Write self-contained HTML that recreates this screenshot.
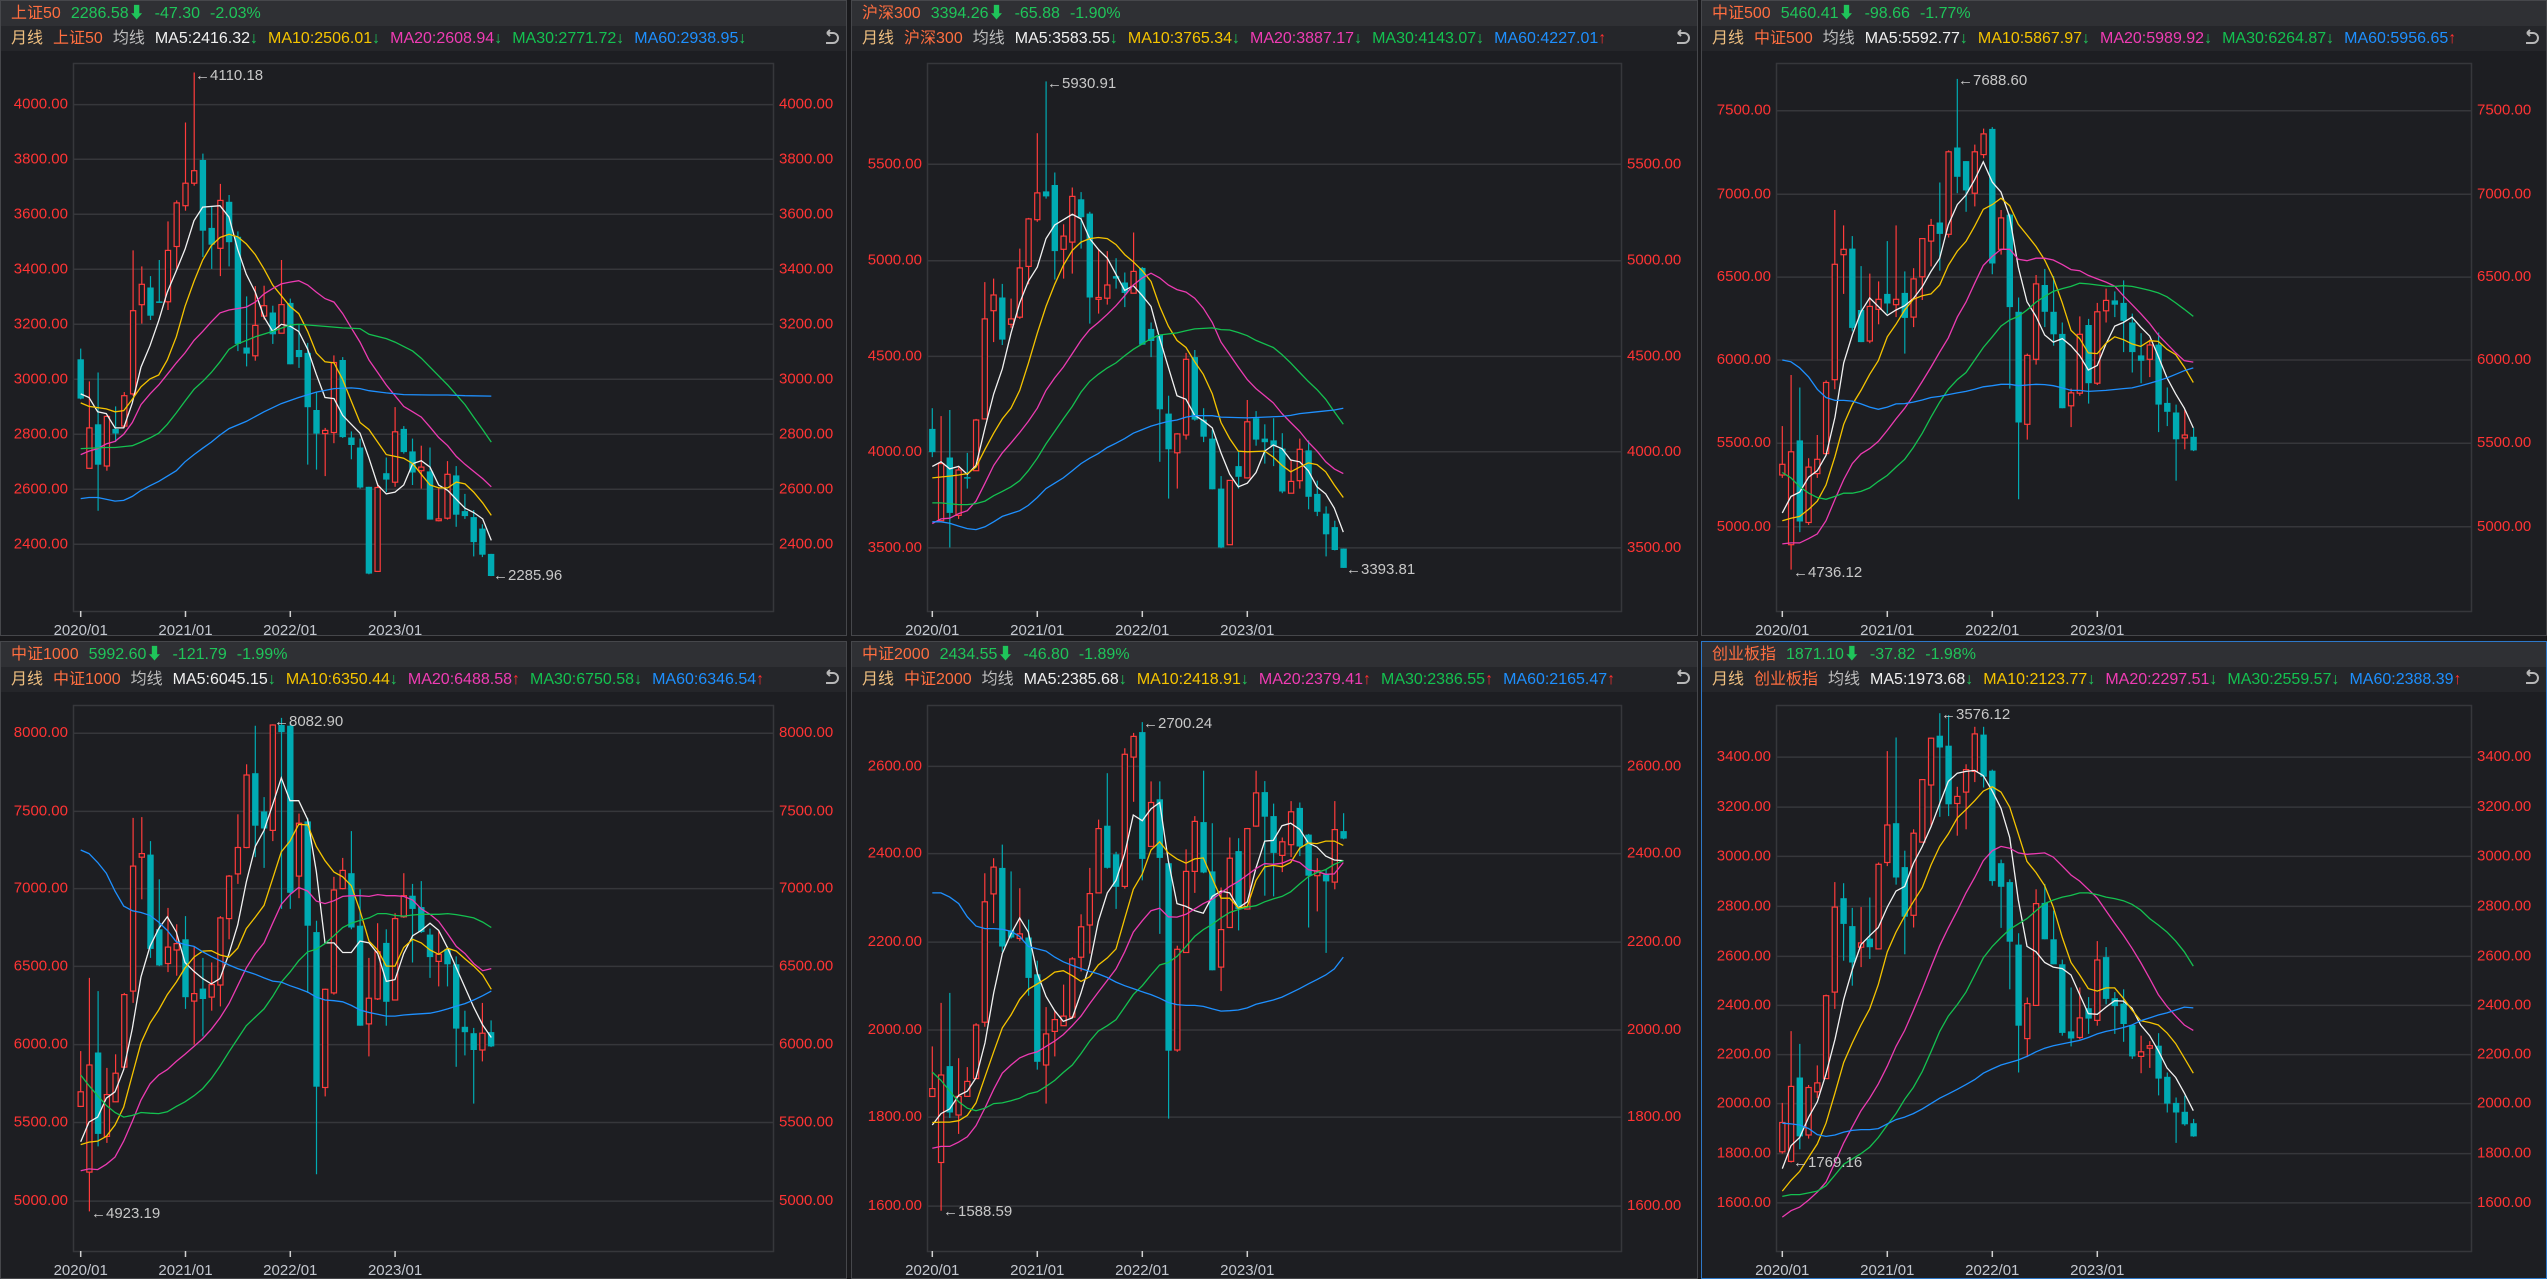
<!DOCTYPE html>
<html><head><meta charset="utf-8"><style>
html,body{margin:0;padding:0;background:#19191c;width:2547px;height:1279px;overflow:hidden;font-family:"Liberation Sans","Noto Sans CJK SC",sans-serif;}
.p{position:absolute;background:#1d1e22;border:1px solid #46474b;box-sizing:border-box;}
.r1{position:absolute;left:0;right:0;top:0;height:25px;background:#2f3034;font-size:16px;line-height:25px;white-space:nowrap;padding-left:10px;}
.r2{position:absolute;left:0;right:0;top:25px;height:25px;background:#25262a;font-size:16px;line-height:25px;white-space:nowrap;padding-left:10px;}
.r1 span,.r2 span{margin-right:10px;}
.nm{color:#ff6e40}.g{color:#1fc55a}.yx{color:#f0c080}.jx{color:#bdbdbd}
.w{color:#f0f0f0}.y{color:#f5c400}.m{color:#f03cb4}.gr{color:#14c150}.b{color:#1e90ff}
.dn{color:#1fc55a;font-weight:bold}.up{color:#ff3030;font-weight:bold}
svg#c{position:absolute;left:0;top:0;}
</style></head><body>
<div class="p" style="left:0;top:0;width:847px;height:636px;"><div class="r1"><span class="nm">上证50</span><span class="g">2286.58<b>⬇</b></span><span class="g">-47.30</span><span class="g">-2.03%</span></div><div class="r2"><span class="yx">月线</span><span class="nm">上证50</span><span class="jx">均线</span><span class="w">MA5:2416.32<i class="dn">↓</i></span><span class="y">MA10:2506.01<i class="dn">↓</i></span><span class="m">MA20:2608.94<i class="dn">↓</i></span><span class="gr">MA30:2771.72<i class="dn">↓</i></span><span class="b">MA60:2938.95<i class="dn">↓</i></span></div></div>
<div class="p" style="left:851px;top:0;width:847px;height:636px;"><div class="r1"><span class="nm">沪深300</span><span class="g">3394.26<b>⬇</b></span><span class="g">-65.88</span><span class="g">-1.90%</span></div><div class="r2"><span class="yx">月线</span><span class="nm">沪深300</span><span class="jx">均线</span><span class="w">MA5:3583.55<i class="dn">↓</i></span><span class="y">MA10:3765.34<i class="dn">↓</i></span><span class="m">MA20:3887.17<i class="dn">↓</i></span><span class="gr">MA30:4143.07<i class="dn">↓</i></span><span class="b">MA60:4227.01<i class="up">↑</i></span></div></div>
<div class="p" style="left:1701px;top:0;width:846px;height:636px;"><div class="r1"><span class="nm">中证500</span><span class="g">5460.41<b>⬇</b></span><span class="g">-98.66</span><span class="g">-1.77%</span></div><div class="r2"><span class="yx">月线</span><span class="nm">中证500</span><span class="jx">均线</span><span class="w">MA5:5592.77<i class="dn">↓</i></span><span class="y">MA10:5867.97<i class="dn">↓</i></span><span class="m">MA20:5989.92<i class="dn">↓</i></span><span class="gr">MA30:6264.87<i class="dn">↓</i></span><span class="b">MA60:5956.65<i class="up">↑</i></span></div></div>
<div class="p" style="left:0;top:641px;width:847px;height:638px;"><div class="r1"><span class="nm">中证1000</span><span class="g">5992.60<b>⬇</b></span><span class="g">-121.79</span><span class="g">-1.99%</span></div><div class="r2"><span class="yx">月线</span><span class="nm">中证1000</span><span class="jx">均线</span><span class="w">MA5:6045.15<i class="dn">↓</i></span><span class="y">MA10:6350.44<i class="dn">↓</i></span><span class="m">MA20:6488.58<i class="up">↑</i></span><span class="gr">MA30:6750.58<i class="dn">↓</i></span><span class="b">MA60:6346.54<i class="up">↑</i></span></div></div>
<div class="p" style="left:851px;top:641px;width:847px;height:638px;"><div class="r1"><span class="nm">中证2000</span><span class="g">2434.55<b>⬇</b></span><span class="g">-46.80</span><span class="g">-1.89%</span></div><div class="r2"><span class="yx">月线</span><span class="nm">中证2000</span><span class="jx">均线</span><span class="w">MA5:2385.68<i class="dn">↓</i></span><span class="y">MA10:2418.91<i class="dn">↓</i></span><span class="m">MA20:2379.41<i class="up">↑</i></span><span class="gr">MA30:2386.55<i class="up">↑</i></span><span class="b">MA60:2165.47<i class="up">↑</i></span></div></div>
<div class="p" style="left:1701px;top:641px;width:846px;height:638px;border-color:#2e78c8;"><div class="r1"><span class="nm">创业板指</span><span class="g">1871.10<b>⬇</b></span><span class="g">-37.82</span><span class="g">-1.98%</span></div><div class="r2"><span class="yx">月线</span><span class="nm">创业板指</span><span class="jx">均线</span><span class="w">MA5:1973.68<i class="dn">↓</i></span><span class="y">MA10:2123.77<i class="dn">↓</i></span><span class="m">MA20:2297.51<i class="dn">↓</i></span><span class="gr">MA30:2559.57<i class="dn">↓</i></span><span class="b">MA60:2388.39<i class="up">↑</i></span></div></div>
<svg id="c" width="2547" height="1279" xmlns="http://www.w3.org/2000/svg"></svg>
<script>
var P=[
{ox:60,oy:60,t0:62,st:26.2,box:[73,63,773,611],
grid:[[125,'4000.00'],[278,'3800.00'],[432,'3600.00'],[586,'3400.00'],[740,'3200.00'],[894,'3000.00'],[1048,'2800.00'],[1202,'2600.00'],[1356,'2400.00']],
c:[[838,948,808,950,0],[1030,1143,900,1143,1],[1020,1133,875,1262,0],[998,1137,995,1150,1],[1033,1046,970,1070,0],[940,1025,930,1030,1],[702,935,533,940,1],[628,685,578,738,1],[637,716,605,728,0],[676,679,560,680,0],[533,677,452,700,1],[400,522,393,585,1],[345,408,175,422,1],[310,345,35,352,1],[280,478,262,552,0],[470,517,410,585,0],[393,527,347,605,1],[397,510,378,578,0],[495,795,480,815,0],[805,822,662,858,0],[743,828,633,842,1],[688,717,632,727,1],[707,768,688,795,0],[685,765,560,765,1],[680,852,668,852,0],[812,832,740,862,0],[820,972,792,1133,0],[980,1046,930,1147,0],[1037,1046,1030,1165,1],[847,1043,827,1073,1],[840,1056,832,1058,0],[1057,1078,1040,1118,0],[1085,1197,1060,1200,0],[1195,1438,1195,1440,0],[1197,1432,1185,1432,1],[1157,1175,1113,1210,0],[1041,1182,972,1195,1],[1033,1098,1025,1102,0],[1096,1155,1060,1190,0],[1140,1150,1080,1200,1],[1152,1287,1085,1287,0],[1285,1290,1200,1292,1],[1160,1283,1123,1287,1],[1163,1273,1137,1307,0],[1263,1277,1215,1285,0],[1280,1350,1260,1390,0],[1312,1385,1300,1392,0],[1383,1445,1383,1445,0]],
ma:[
[62,935,87,945,113,985,139,990,165,1030,191,1030,217,960,243,860,270,800,296,730,322,650,349,590,375,530,402,450,428,412,480,408,507,440,533,530,559,600,586,650,612,720,638,760,664,740,690,745,716,760,743,810,769,880,795,945,822,948,848,995,874,1020,900,1045,927,1115,953,1190,979,1215,1005,1210,1031,1190,1058,1130,1084,1122,1110,1140,1136,1190,1163,1205,1189,1230,1215,1255,1241,1267,1268,1285,1294,1345],
[62,960,87,970,139,977,165,985,191,982,217,950,243,915,270,893,296,882,322,840,349,775,375,690,402,620,428,560,454,520,480,497,507,488,533,495,559,515,586,545,612,585,638,630,664,660,690,690,716,710,743,760,769,820,795,845,822,848,848,895,874,955,900,1015,927,1035,953,1070,979,1105,1005,1110,1031,1115,1058,1130,1084,1160,1110,1190,1136,1198,1163,1198,1189,1182,1215,1187,1241,1210,1268,1240,1294,1275],
[62,1105,87,1095,113,1088,139,1075,165,1068,191,1048,217,1015,243,965,270,935,296,910,322,880,349,848,375,820,402,785,428,760,454,733,480,708,507,700,559,692,586,678,612,655,638,640,664,627,690,622,716,618,743,630,769,650,795,668,822,678,848,710,874,750,900,790,927,840,953,875,979,910,1005,940,1031,970,1058,985,1084,1000,1110,1028,1136,1057,1163,1080,1189,1110,1215,1132,1241,1152,1268,1172,1294,1195],
[62,1088,139,1085,165,1085,217,1080,243,1070,270,1058,296,1045,322,1020,349,988,375,955,402,922,428,900,454,875,480,845,507,810,533,795,586,775,638,760,690,742,716,740,743,742,795,746,848,750,900,752,927,768,979,780,1005,790,1058,815,1084,835,1110,860,1163,910,1215,965,1241,1000,1268,1035,1294,1070],
[62,1228,87,1225,113,1225,165,1235,191,1233,217,1222,243,1205,270,1192,296,1180,349,1150,375,1125,402,1105,428,1087,454,1070,480,1050,507,1032,559,1012,612,985,664,962,716,945,769,930,822,920,874,918,900,920,927,926,979,932,1031,937,1110,938,1163,938,1215,940,1294,941]],
lab:[['←4110.18',195,76],['←2285.96',493,576]]},
{ox:910,oy:60,t0:67,st:26.25,box:[927,63,1621,611],
grid:[[292,'5500.00'],[562,'5000.00'],[830,'4500.00'],[1097,'4000.00'],[1366,'3500.00']],
c:[[1033,1098,975,1112,0],[1130,1290,997,1290,1],[1113,1268,980,1365,0],[1148,1275,1140,1285,1],[1168,1172,1100,1200,0],[1008,1150,1005,1150,1],[725,1005,622,1005,1],[658,702,612,790,1],[665,783,627,798,0],[725,740,668,750,1],[582,720,528,725,1],[445,578,442,628,1],[372,447,205,453,1],[368,382,60,388,0],[350,535,315,615,0],[493,530,460,612,1],[382,510,357,598,1],[390,440,370,528,0],[430,665,425,738,0],[665,670,530,710,1],[630,667,535,685,1],[605,612,555,640,0],[623,652,595,692,0],[592,653,483,653,1],[582,797,580,797,0],[753,787,735,832,0],[770,978,770,1125,0],[990,1090,940,1228,0],[1047,1100,1045,1200,1],[838,1050,820,1063,1],[832,1007,812,1010,0],[1007,1055,975,1070,0],[1060,1202,1035,1202,0],[1200,1365,1165,1367,0],[1177,1357,1177,1357,1],[1137,1167,1095,1200,0],[1013,1170,952,1172,1],[1003,1063,983,1080,0],[1060,1070,1020,1130,0],[1065,1080,1003,1137,0],[1088,1208,1045,1213,0],[1180,1213,1118,1213,1],[1090,1178,1060,1200,1],[1093,1223,1065,1258,0],[1215,1265,1178,1277,0],[1270,1328,1250,1390,0],[1308,1372,1290,1373,0],[1368,1422,1368,1422,0]],
ma:[
[67,1138,93,1125,119,1145,146,1138,172,1160,198,1135,225,1030,251,935,277,865,303,765,329,680,355,620,382,580,408,500,434,462,487,432,513,445,539,500,565,530,592,555,618,600,644,645,670,632,697,660,723,690,749,780,775,860,801,940,828,950,854,995,880,1010,907,1030,933,1100,959,1160,985,1195,1012,1185,1038,1155,1064,1095,1090,1078,1116,1088,1142,1120,1169,1125,1195,1150,1221,1195,1247,1215,1273,1255,1300,1322],
[67,1170,119,1165,146,1162,172,1158,198,1140,225,1090,251,1045,277,1005,303,975,329,925,355,850,382,765,408,690,434,628,460,575,487,533,513,510,539,500,565,497,592,500,618,517,644,545,670,565,697,590,723,620,749,690,775,745,801,785,828,805,854,845,880,880,907,935,933,1015,959,1060,985,1095,1012,1097,1064,1095,1090,1112,1116,1135,1142,1153,1169,1140,1195,1128,1221,1133,1247,1153,1273,1190,1300,1225],
[67,1298,93,1285,119,1283,146,1270,172,1262,198,1235,225,1185,251,1135,277,1100,303,1072,329,1043,355,1012,382,975,408,925,434,890,460,860,487,822,513,785,539,755,565,735,592,712,618,688,644,660,670,630,697,610,723,597,749,610,775,630,801,643,828,650,854,667,880,695,907,735,933,790,959,825,985,860,1012,895,1038,920,1064,940,1090,960,1116,990,1142,1015,1169,1040,1195,1070,1221,1095,1247,1125,1273,1145,1300,1158],
[67,1240,93,1240,146,1245,172,1245,198,1242,225,1235,251,1220,277,1208,303,1195,329,1178,355,1150,382,1115,408,1075,434,1040,460,1005,487,970,513,930,539,900,565,880,592,862,618,848,644,828,670,810,697,795,723,780,749,770,801,764,828,758,854,753,907,750,933,755,959,756,985,763,1012,772,1038,785,1090,805,1116,825,1142,848,1169,875,1195,900,1221,923,1247,950,1273,985,1300,1020],
[67,1293,93,1293,119,1297,146,1305,172,1312,198,1315,225,1307,251,1293,277,1278,329,1262,355,1247,382,1225,408,1200,434,1185,460,1170,487,1150,513,1130,539,1115,565,1102,592,1085,618,1073,644,1060,670,1045,697,1035,723,1025,749,1018,775,1012,801,1008,828,1000,854,996,907,996,933,1000,1012,1002,1064,1000,1116,998,1142,995,1169,990,1221,985,1273,980,1300,975]],
lab:[['←5930.91',1047,84],['←3393.81',1346,570]]},
{ox:1760,oy:60,t0:67,st:26.25,box:[1776,63,2471,611],
grid:[[142,'7500.00'],[376,'7000.00'],[608,'6500.00'],[840,'6000.00'],[1073,'5500.00'],[1307,'5000.00']],
c:[[1132,1162,1025,1170,1],[1097,1357,882,1427,1],[1065,1292,917,1322,0],[1140,1295,1115,1302,1],[1118,1158,1050,1170,1],[903,1102,897,1102,1],[572,895,420,922,1],[530,545,463,655,1],[528,750,493,760,0],[700,790,577,790,0],[690,787,598,793,1],[670,698,620,740,1],[655,682,507,710,0],[670,685,463,720,1],[652,722,592,822,0],[613,720,583,748,1],[500,607,500,672,1],[463,507,445,578,1],[455,487,343,590,0],[257,488,253,497,1],[245,327,53,373,0],[283,365,283,425,0],[257,373,237,410,1],[207,265,192,275,1],[193,570,188,600,0],[442,530,420,545,1],[433,692,430,920,0],[705,1015,665,1230,0],[827,1020,822,1063,1],[627,838,602,853,1],[630,705,585,748,0],[705,768,605,800,0],[767,975,735,975,0],[932,968,920,1028,1],[768,933,718,940,1],[742,905,725,962,0],[705,905,680,910,1],[673,702,640,735,1],[673,685,648,720,0],[680,730,617,818,0],[735,818,710,875,0],[827,842,765,905,0],[798,838,783,888,1],[797,965,763,1042,0],[960,985,917,1025,0],[987,1062,965,1178,0],[1050,1058,980,1090,1],[1055,1093,1030,1095,0]],
ma:[
[67,1268,93,1222,119,1210,146,1168,172,1150,198,1107,225,1000,251,848,277,770,303,705,329,666,355,690,382,715,408,700,434,688,460,668,487,635,513,592,539,555,565,462,592,405,618,378,644,335,670,285,697,342,723,370,749,440,775,580,801,677,828,718,854,770,880,790,907,780,933,800,959,828,985,868,1012,855,1038,795,1064,745,1090,735,1116,720,1142,748,1169,773,1195,830,1221,890,1247,935,1273,975,1300,1030],
[67,1290,93,1283,119,1278,146,1258,172,1235,198,1190,225,1110,251,1020,277,965,303,925,329,880,355,842,382,775,408,740,434,700,460,670,487,660,513,655,539,630,565,575,592,535,618,508,644,465,670,418,697,405,723,387,749,408,775,460,801,490,828,522,854,560,880,610,907,680,933,757,959,780,985,820,1012,822,1038,793,1064,775,1090,783,1116,795,1142,802,1169,786,1195,788,1221,810,1247,825,1273,860,1300,903],
[67,1355,93,1352,119,1352,146,1340,172,1327,198,1290,225,1230,251,1175,277,1130,303,1103,329,1088,355,1068,382,1037,408,1005,434,975,460,940,487,900,513,860,539,818,565,778,592,720,618,678,644,625,670,575,697,550,723,530,749,530,775,558,801,562,828,555,854,555,880,560,907,573,933,587,959,590,985,603,1012,613,1038,622,1064,633,1090,660,1116,685,1142,710,1169,738,1195,770,1221,795,1247,820,1273,842,1300,846],
[67,1155,93,1170,119,1195,146,1213,172,1225,198,1230,225,1222,251,1213,277,1213,303,1208,329,1198,355,1180,382,1163,408,1140,434,1118,460,1085,487,1045,513,1000,539,958,565,922,592,895,618,875,644,840,670,805,697,775,723,745,749,728,775,718,801,700,828,678,854,662,880,648,907,640,933,634,959,625,985,627,1012,630,1038,633,1064,634,1090,632,1116,634,1142,639,1169,645,1195,652,1221,663,1247,680,1273,698,1300,718],
[67,840,93,845,119,862,146,888,172,922,198,945,225,953,251,953,277,955,303,963,329,972,355,978,382,972,408,963,434,962,460,958,487,952,513,945,539,942,565,937,592,932,618,928,644,922,670,915,697,912,723,908,749,908,775,912,801,910,828,908,854,909,880,912,907,918,933,925,959,925,985,928,1038,925,1090,920,1116,918,1142,912,1169,905,1195,898,1221,890,1247,880,1273,870,1300,862]],
lab:[['←7688.60',1958,81],['←4736.12',1793,573]]},
{ox:60,oy:700,t0:62,st:26.2,box:[73,705,773,1251],
grid:[[93,'8000.00'],[312,'7500.00'],[528,'7000.00'],[746,'6500.00'],[965,'6000.00'],[1183,'5500.00'],[1403,'5000.00']],
c:[[1097,1138,983,1140,1],[1022,1322,778,1432,1],[987,1215,815,1250,0],[1105,1222,1030,1240,1],[1045,1125,992,1125,1],[825,1028,820,1030,1],[465,815,330,848,1],[430,440,328,558,1],[433,697,395,722,0],[642,743,502,745,0],[692,738,582,762,1],[682,700,628,772,1],[670,832,605,865,0],[822,843,690,965,1],[808,837,722,942,0],[797,832,735,870,1],[610,798,605,858,1],[493,612,490,670,1],[413,487,320,515,1],[210,413,180,415,1],[205,352,72,440,0],[312,360,272,470,0],[70,365,68,395,1],[70,90,50,585,0],[72,540,60,585,0],[345,493,318,555,1],[340,632,330,820,0],[650,1083,618,1328,0],[810,1085,808,1110,1],[532,820,495,825,1],[477,528,442,530,1],[485,637,367,642,0],[632,912,530,912,0],[835,907,722,998,1],[705,837,625,840,1],[680,845,642,912,0],[612,840,597,840,1],[548,607,485,610,1],[548,585,515,735,0],[580,650,507,652,0],[657,720,640,778,0],[712,732,648,802,1],[697,740,690,802,0],[740,920,718,1027,0],[915,930,870,995,0],[933,980,918,1130,0],[933,980,848,1012,1],[930,970,897,972,0]],
ma:[
[62,1237,87,1182,113,1168,139,1115,165,1097,191,1035,217,920,243,775,270,690,296,640,322,607,349,650,375,735,402,760,428,780,454,795,480,780,507,710,533,630,559,510,586,410,612,365,638,293,664,218,690,282,716,282,743,335,769,480,795,680,822,680,848,707,874,707,900,675,927,680,953,710,979,788,1005,783,1031,710,1058,660,1084,645,1110,625,1136,645,1163,695,1189,750,1215,805,1241,860,1268,910,1294,945],
[62,1245,87,1238,113,1235,139,1222,165,1190,191,1140,217,1050,243,960,270,905,296,868,322,825,349,790,375,750,402,720,428,703,454,702,480,714,507,720,533,695,559,640,586,608,612,575,638,500,664,425,690,395,716,348,743,350,769,410,795,450,822,482,848,495,874,520,900,590,927,675,953,700,979,745,1005,745,1031,693,1058,670,1084,680,1110,700,1136,712,1163,695,1189,703,1215,725,1241,745,1268,770,1294,810],
[62,1318,87,1313,113,1315,139,1300,165,1280,191,1235,217,1180,243,1120,270,1075,296,1050,322,1035,349,1012,375,992,402,970,428,948,454,922,480,890,507,850,533,800,559,750,586,710,612,680,638,625,664,572,690,545,716,525,743,535,769,563,795,570,822,562,848,550,874,548,900,548,927,550,953,545,979,548,1005,548,1031,550,1058,560,1084,585,1110,600,1136,620,1163,655,1189,690,1215,710,1241,738,1268,758,1294,752],
[62,1050,87,1080,113,1108,139,1135,165,1155,191,1168,217,1163,243,1155,270,1157,296,1158,322,1153,349,1138,375,1125,402,1108,428,1088,454,1060,480,1025,507,985,533,948,559,912,586,888,612,865,638,830,664,790,690,762,716,730,743,705,769,698,795,682,822,660,848,637,874,625,900,617,927,610,953,598,979,598,1005,603,1031,605,1058,602,1084,600,1136,600,1163,598,1189,601,1215,605,1241,610,1268,622,1294,637],
[62,420,87,430,113,455,139,485,165,535,191,577,217,590,243,595,270,603,296,622,322,645,349,677,375,685,402,690,428,705,454,718,480,730,507,742,533,752,559,760,586,768,612,778,638,787,664,790,690,800,716,808,743,818,769,832,795,840,822,842,848,845,874,855,900,868,927,875,953,880,979,885,1005,885,1031,882,1058,880,1110,877,1136,872,1163,865,1189,857,1215,850,1241,840,1268,828,1294,815]],
lab:[['←8082.90',274,722],['←4923.19',91,1214]]},
{ox:910,oy:700,t0:67,st:26.25,box:[927,705,1621,1251],
grid:[[186,'2600.00'],[430,'2400.00'],[678,'2200.00'],[924,'2000.00'],[1168,'1800.00'],[1417,'1600.00']],
c:[[1088,1110,970,1112,1],[1050,1295,848,1430,1],[1025,1155,820,1170,0],[1110,1162,1003,1215,1],[1068,1110,1028,1110,1],[910,1060,905,1060,1],[565,902,485,915,1],[468,543,443,625,1],[470,690,405,705,0],[645,665,480,668,0],[655,668,527,675,1],[665,778,615,828,0],[768,1013,730,1035,0],[935,1022,860,1130,1],[895,928,870,998,1],[885,912,797,912,1],[725,888,720,890,1],[635,720,600,760,1],[542,630,470,710,1],[360,540,335,540,1],[352,470,205,472,0],[432,523,425,585,0],[152,522,135,528,1],[102,160,92,285,1],[90,445,62,505,0],[287,410,228,412,1],[278,442,228,655,0],[457,982,455,1172,0],[698,980,688,985,1],[480,707,418,708,1],[340,480,325,540,1],[342,483,198,485,0],[480,757,345,757,0],[643,748,525,815,1],[443,637,385,637,1],[423,585,387,645,0],[360,585,358,587,1],[260,353,198,355,1],[258,327,227,548,0],[325,428,290,550,0],[397,435,385,482,1],[313,405,283,440,1],[302,410,287,437,0],[377,492,375,637,0],[478,492,443,592,1],[488,508,475,708,0],[363,510,283,530,1],[367,388,317,390,0]],
ma:[
[67,1190,93,1158,119,1145,146,1107,172,1095,198,1058,225,960,251,820,277,710,303,655,329,610,355,650,382,765,408,830,434,870,460,900,487,890,513,820,539,740,565,620,592,540,618,505,644,430,670,322,697,338,723,305,749,287,775,450,801,570,828,578,854,590,880,597,907,550,933,535,959,540,985,582,1012,565,1038,470,1064,395,1090,393,1116,352,1142,345,1169,362,1195,400,1221,412,1247,437,1273,448,1300,450],
[67,1183,93,1182,119,1182,146,1178,172,1163,198,1128,225,1055,251,985,277,918,303,882,329,838,355,810,382,795,408,780,434,762,460,758,487,772,513,788,539,775,565,742,592,722,618,697,644,612,670,530,697,487,723,420,749,397,775,428,801,445,828,457,854,445,880,442,907,500,933,555,959,555,985,582,1012,578,1038,505,1064,467,1090,463,1116,467,1142,455,1169,415,1195,400,1221,402,1247,395,1273,395,1300,407],
[67,1255,93,1250,119,1250,146,1238,172,1223,198,1192,225,1142,251,1090,277,1045,303,1022,329,1002,355,992,382,985,408,970,434,955,460,937,487,912,513,885,539,850,565,818,592,785,618,753,644,705,670,650,697,618,723,590,749,583,775,607,801,608,828,600,854,585,880,570,907,558,933,540,959,522,985,508,1012,490,1038,472,1064,458,1090,460,1116,457,1142,447,1169,455,1195,475,1221,480,1247,488,1273,487,1300,455],
[67,1042,93,1065,119,1095,146,1125,172,1143,198,1150,225,1143,251,1130,277,1128,303,1122,329,1115,355,1103,382,1097,408,1082,434,1065,460,1043,487,1022,513,990,539,955,565,927,592,912,618,895,644,860,670,825,697,800,723,770,749,742,775,735,801,718,828,690,854,662,880,643,907,628,933,610,959,595,985,587,1012,580,1038,576,1064,565,1090,557,1116,550,1142,537,1169,515,1195,495,1221,483,1247,475,1273,460,1300,450],
[67,540,93,540,119,552,146,570,172,607,198,633,225,640,251,640,277,642,303,648,329,662,355,690,382,697,408,703,434,720,460,733,487,743,513,752,539,760,565,767,592,777,618,790,644,800,670,808,697,817,723,825,749,835,775,847,801,853,828,855,854,855,880,858,907,865,933,871,959,870,985,868,1012,862,1038,852,1090,840,1116,832,1142,820,1169,808,1195,795,1221,783,1247,770,1273,753,1300,720]],
lab:[['←2700.24',1143,724],['←1588.59',943,1212]]},
{ox:1760,oy:700,t0:67,st:26.25,box:[1776,705,2471,1251],
grid:[[160,'3400.00'],[300,'3200.00'],[438,'3000.00'],[578,'2800.00'],[718,'2600.00'],[855,'2400.00'],[993,'2200.00'],[1130,'2000.00'],[1270,'1800.00'],[1408,'1600.00']],
c:[[1183,1265,1128,1270,1],[1082,1292,927,1295,1],[1057,1222,963,1258,0],[1085,1218,1078,1228,1],[1072,1097,1023,1115,1],[828,1060,825,1060,1],[580,818,510,865,1],[555,627,513,730,0],[633,735,582,800,0],[680,692,580,748,1],[668,692,553,725,0],[460,697,455,697,1],[350,455,143,465,1],[345,497,105,517,0],[468,607,422,712,0],[373,603,362,637,1],[223,398,222,398,1],[107,238,105,355,1],[100,133,37,327,0],[128,292,42,325,0],[270,290,243,380,1],[195,258,180,362,1],[95,200,75,230,1],[97,215,75,245,0],[198,507,195,520,0],[457,523,447,638,0],[510,677,502,810,0],[685,912,653,1043,0],[850,948,833,1000,1],[570,855,530,855,1],[568,670,515,670,0],[670,740,590,740,0],[740,932,727,940,0],[928,948,805,970,0],[890,945,805,950,1],[863,892,832,935,0],[728,897,675,912,1],[720,837,692,852,0],[835,857,818,935,0],[850,907,810,957,0],[910,998,908,1005,0],[985,998,940,1045,1],[968,975,955,1030,1],[968,1060,933,1107,0],[1055,1130,1043,1155,0],[1128,1155,1113,1240,0],[1153,1188,1108,1192,0],[1185,1222,1173,1223,0]],
ma:[
[67,1312,93,1248,119,1225,146,1168,172,1125,198,1047,225,950,251,838,277,755,303,685,329,660,355,637,382,580,408,535,434,522,460,458,487,410,513,355,539,290,565,228,592,205,618,200,644,197,670,212,697,255,723,303,749,385,775,560,801,690,828,705,854,735,880,748,907,752,933,770,959,825,985,878,1012,880,1038,860,1064,842,1090,843,1116,863,1142,910,1169,940,1195,982,1221,1030,1247,1057,1273,1100,1300,1150],
[67,1375,93,1345,119,1320,146,1280,172,1243,198,1185,225,1100,251,1015,277,960,303,910,329,865,355,797,382,705,408,650,434,605,460,565,487,525,513,462,539,410,565,375,592,330,618,307,644,282,670,255,697,243,723,258,749,300,775,375,801,452,828,483,854,520,880,580,907,665,933,735,959,770,985,808,1012,815,1038,806,1064,806,1090,835,1116,868,1142,898,1169,903,1195,910,1221,932,1247,962,1273,1002,1300,1045],
[67,1448,93,1430,119,1420,146,1400,172,1378,198,1350,225,1295,251,1240,277,1195,303,1150,329,1115,355,1075,382,1025,408,970,434,925,460,870,487,810,513,748,539,688,565,638,592,590,618,540,644,497,670,450,697,422,723,410,749,415,775,428,801,432,828,430,854,428,880,440,907,465,933,490,959,507,985,530,1012,555,1038,590,1064,625,1090,658,1116,695,1142,735,1169,780,1195,825,1221,858,1247,885,1273,910,1300,925],
[67,1390,93,1385,119,1385,146,1380,172,1375,198,1360,225,1330,251,1300,277,1285,303,1270,329,1252,355,1225,382,1190,408,1158,434,1118,460,1085,487,1040,513,985,539,928,565,885,592,853,618,818,644,770,670,722,697,690,723,665,749,642,775,627,801,612,828,590,854,570,880,560,907,552,933,547,959,540,985,540,1012,545,1038,552,1064,556,1090,562,1116,572,1142,588,1169,612,1195,630,1221,650,1247,675,1273,705,1300,745],
[67,1185,93,1187,119,1190,146,1200,172,1217,198,1222,225,1218,251,1210,277,1205,303,1203,329,1203,355,1200,382,1187,408,1175,434,1168,460,1158,487,1145,513,1130,539,1115,565,1103,592,1090,618,1077,644,1063,670,1045,697,1033,723,1022,749,1015,775,1008,801,998,828,985,854,975,880,968,907,963,933,958,959,953,985,945,1012,935,1038,928,1064,923,1090,917,1116,910,1142,898,1169,890,1195,882,1221,876,1247,868,1273,860,1300,862]],
lab:[['←3576.12',1941,715],['←1769.16',1793,1163]]}
];
var cols=['#f2f2f2','#f5c400','#ec3bb2','#14c150','#1e90ff'];
var s='';
var undoY=[38,678],undoX=[832,1683,2532];
P.forEach(function(p,pi){
 var X=function(v){return p.ox+v/3;},Y=function(v){return p.oy+v/2.8;};
 var b=p.box;
 s+='<rect x="'+(b[0]+.5)+'" y="'+(b[1]+.5)+'" width="'+(b[2]-b[0])+'" height="'+(b[3]-b[1])+'" fill="none" stroke="#36373b" stroke-width="1.5"/>';
 p.grid.forEach(function(g){var y=Y(g[0]).toFixed(1);
  s+='<line x1="'+b[0]+'" x2="'+b[2]+'" y1="'+y+'" y2="'+y+'" stroke="#36373b" stroke-width="1.5"/>';
  s+='<text x="'+(b[0]-5)+'" y="'+y+'" fill="#ff3434" font-size="15" text-anchor="end" dominant-baseline="middle">'+g[1]+'</text>';
  s+='<text x="'+(b[2]+6)+'" y="'+y+'" fill="#ff3434" font-size="15" dominant-baseline="middle">'+g[1]+'</text>';
 });
 ['2020/01','2021/01','2022/01','2023/01'].forEach(function(d,k){var x=X(p.t0+12*k*p.st).toFixed(1);
  s+='<line x1="'+x+'" x2="'+x+'" y1="'+b[3]+'" y2="'+(b[3]+6)+'" stroke="#d0d0d0" stroke-width="1.5"/>';
  s+='<text x="'+x+'" y="'+(b[3]+20)+'" fill="#c4c8d0" font-size="15" text-anchor="middle" dominant-baseline="middle">'+d+'</text>';
 });
 p.c.forEach(function(c,i){var x=X(p.t0+i*p.st),col=c[4]?'#ff3b3b':'#00abb3';
  s+='<line x1="'+x.toFixed(1)+'" x2="'+x.toFixed(1)+'" y1="'+Y(c[2]).toFixed(1)+'" y2="'+Y(c[3]).toFixed(1)+'" stroke="'+col+'" stroke-width="1.2"/>';
  var t=Y(c[0]),h=Math.max(1.5,Y(c[1])-t);
  if(c[4])s+='<rect x="'+(x-2.6).toFixed(1)+'" y="'+t.toFixed(1)+'" width="5.2" height="'+h.toFixed(1)+'" fill="#1d1e22" stroke="'+col+'" stroke-width="1.2"/>';
  else s+='<rect x="'+(x-3.2).toFixed(1)+'" y="'+t.toFixed(1)+'" width="6.4" height="'+h.toFixed(1)+'" fill="'+col+'"/>';
 });
 p.ma.forEach(function(a,k){var pts=[];for(var i=0;i<a.length;i+=2)pts.push(X(a[i]).toFixed(1)+','+Y(a[i+1]).toFixed(1));
  s+='<polyline points="'+pts.join(' ')+'" fill="none" stroke="'+cols[k]+'" stroke-width="1.3"/>';});
 p.lab.forEach(function(l){s+='<text x="'+l[1]+'" y="'+l[2]+'" fill="#c8c8c8" font-size="15" dominant-baseline="middle">'+l[0]+'</text>';});
 var ux=undoX[pi%3],uy=undoY[pi<3?0:1];
 s+='<path d="M'+(ux-5)+' '+(uy-5)+' h6 a5 5 0 0 1 0 10 h-7 M'+(ux-5)+' '+(uy-5)+' l3 -3 M'+(ux-5)+' '+(uy-5)+' l3 3" fill="none" stroke="#b8b8b8" stroke-width="2"/>';
});
document.getElementById('c').innerHTML=s;
</script>
</body></html>
